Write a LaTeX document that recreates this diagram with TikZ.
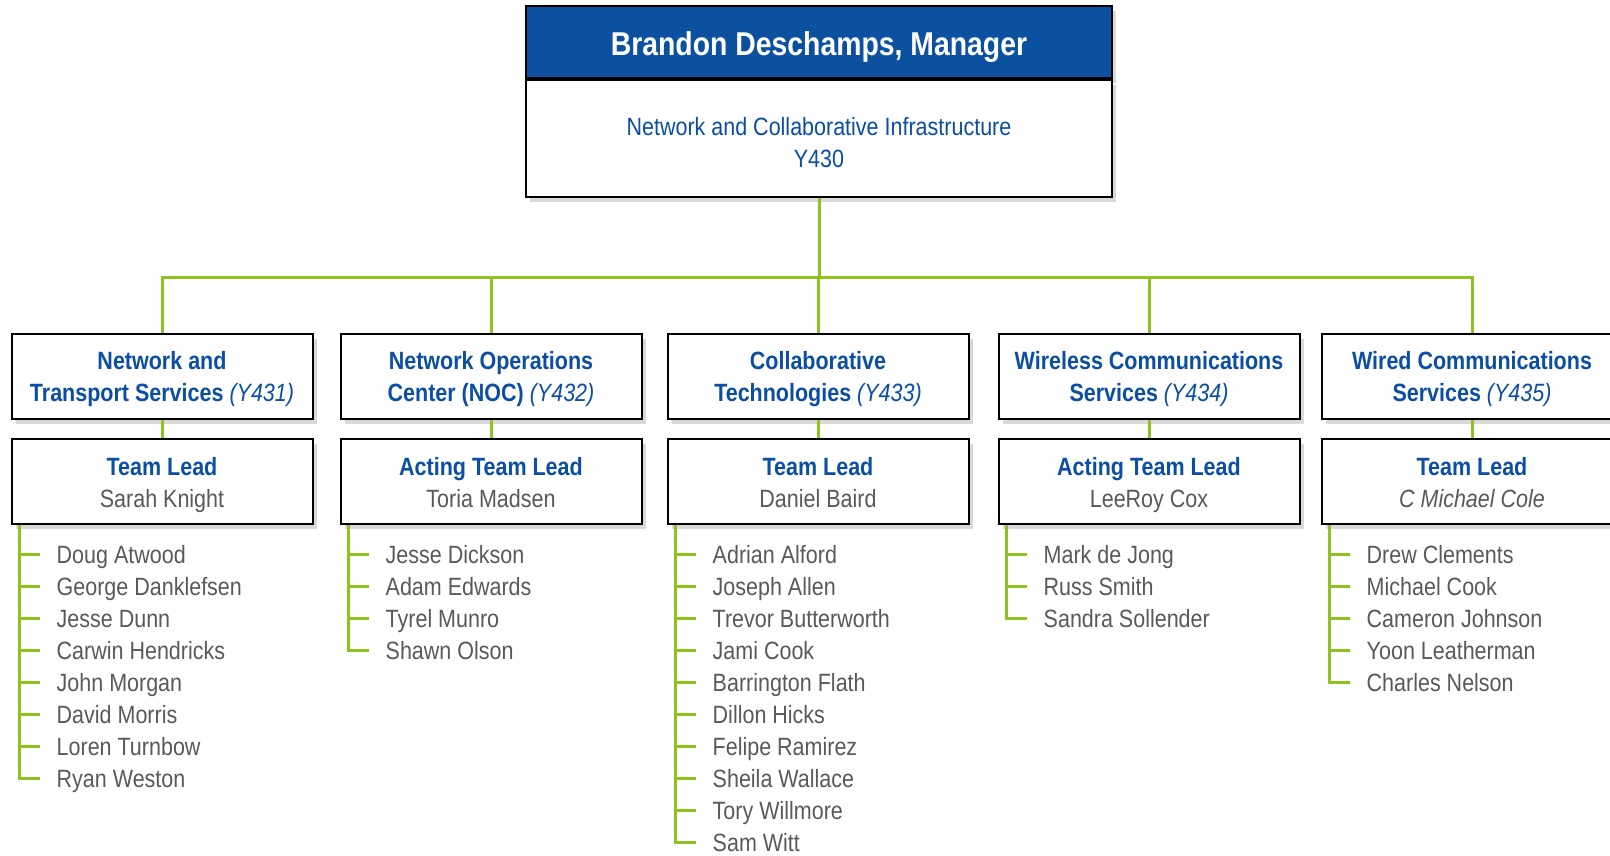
\documentclass[tikz,border=0pt]{standalone}
\usepackage{fontspec}
\setmainfont{Liberation Sans}[FakeStretch=0.86]
\usetikzlibrary{positioning,shadows}
\definecolor{hdrblue}{HTML}{0B51A0}
\definecolor{txtblue}{HTML}{0B4EA2}
\definecolor{busgreen}{HTML}{8DC21F}
\definecolor{namegray}{HTML}{595959}
\tikzset{
  box/.style={draw=black, line width=2pt, fill=white, inner sep=0pt, align=center,
    drop shadow={shadow xshift=4pt, shadow yshift=-5pt, opacity=.3},
    font=\fontsize{25}{32}\selectfont, text=txtblue},
  unitbox/.style={box, minimum width=301pt, minimum height=85pt, text height=54pt, text depth=5pt},
  leadbox/.style={unitbox, text height=58pt},
  bus/.style={draw=busgreen, line width=3pt},
  member/.style={inner sep=0pt, anchor=base west, text=namegray, font=\fontsize{25}{32}\selectfont}
}

\begin{document}
\begin{tikzpicture}[x=1pt, y=1pt]
			%%%%% FRAME %%%%%
			\useasboundingbox (0,0) rectangle (1610,-855);
			\clip (0,0) rectangle (1610,-855);
			
			%%%%% MANAGER %%%%%
			\node[box, fill=hdrblue, minimum width=586pt, minimum height=72pt, text=white,
			  text height=30pt, text depth=4pt,
			  font=\fontsize{33}{40}\selectfont\bfseries] (mgr) at (819,-42) {Brandon Deschamps, Manager};
			\node[box, minimum width=586pt, minimum height=117pt, text height=62pt, text depth=5pt,
			  below=0pt of mgr] (mgrbody) {Network and Collaborative Infrastructure\\Y430};
			
			%%%%% UNITS %%%%%
			\node[unitbox] (sec1) at (162,-376.5) {\textbf{Network and}\\\textbf{Transport Services} \textit{(Y431)}};
			\node[unitbox] (sec2) at (491,-376.5) {\textbf{Network Operations}\\\textbf{Center (NOC)} \textit{(Y432)}};
			\node[unitbox] (sec3) at (818,-376.5) {\textbf{Collaborative}\\\textbf{Technologies} \textit{(Y433)}};
			\node[unitbox] (sec4) at (1149,-376.5) {\textbf{Wireless Communications}\\\textbf{Services} \textit{(Y434)}};
			\node[unitbox] (sec5) at (1472,-376.5) {\textbf{Wired Communications}\\\textbf{Services} \textit{(Y435)}};
			
			\node[leadbox] (lead1) at (162,-481) {\textbf{Team Lead}\\{\color{namegray}Sarah Knight}};
			\node[leadbox] (lead2) at (491,-481) {\textbf{Acting Team Lead}\\{\color{namegray}Toria Madsen}};
			\node[leadbox] (lead3) at (818,-481) {\textbf{Team Lead}\\{\color{namegray}Daniel Baird}};
			\node[leadbox] (lead4) at (1149,-481) {\textbf{Acting Team Lead}\\{\color{namegray}LeeRoy Cox}};
			\node[leadbox] (lead5) at (1472,-481) {\textbf{Team Lead}\\{\color{namegray}\textit{C Michael Cole}}};
			
			%%%%% BUS %%%%%
			\coordinate (busy) at (0,-277);
			\foreach \i in {1,...,5} {
				\draw[bus] (mgrbody.south) -- (mgrbody.south |- busy) -| (sec\i.north);
				\draw[bus] (sec\i.south) -- (lead\i.north);
				\coordinate (rail\i) at ([xshift=9pt]lead\i.south west);
			}
			
			%%%%% MEMBERS %%%%%
			\foreach \nm [count=\k] in {Doug Atwood, George Danklefsen, Jesse Dunn, Carwin Hendricks,
			  John Morgan, David Morris, Loren Turnbow, Ryan Weston} {
				\node[member] (m1-\k) at ([xshift=46pt, yshift={-39pt-32pt*(\k-1)}]lead1.south west) {\nm};
				\draw[bus] (rail1) |- ([xshift=-17pt, yshift=9pt]m1-\k.base west);
			}
			\foreach \nm [count=\k] in {Jesse Dickson, Adam Edwards, Tyrel Munro, Shawn Olson} {
				\node[member] (m2-\k) at ([xshift=46pt, yshift={-39pt-32pt*(\k-1)}]lead2.south west) {\nm};
				\draw[bus] (rail2) |- ([xshift=-17pt, yshift=9pt]m2-\k.base west);
			}
			\foreach \nm [count=\k] in {Adrian Alford, Joseph Allen, Trevor Butterworth, Jami Cook,
			  Barrington Flath, Dillon Hicks, Felipe Ramirez, Sheila Wallace, Tory Willmore, Sam Witt} {
				\node[member] (m3-\k) at ([xshift=46pt, yshift={-39pt-32pt*(\k-1)}]lead3.south west) {\nm};
				\draw[bus] (rail3) |- ([xshift=-17pt, yshift=9pt]m3-\k.base west);
			}
			\foreach \nm [count=\k] in {Mark de Jong, Russ Smith, Sandra Sollender} {
				\node[member] (m4-\k) at ([xshift=46pt, yshift={-39pt-32pt*(\k-1)}]lead4.south west) {\nm};
				\draw[bus] (rail4) |- ([xshift=-17pt, yshift=9pt]m4-\k.base west);
			}
			\foreach \nm [count=\k] in {Drew Clements, Michael Cook, Cameron Johnson, Yoon Leatherman, Charles Nelson} {
				\node[member] (m5-\k) at ([xshift=46pt, yshift={-39pt-32pt*(\k-1)}]lead5.south west) {\nm};
				\draw[bus] (rail5) |- ([xshift=-17pt, yshift=9pt]m5-\k.base west);
			}
\end{tikzpicture}
\end{document}
